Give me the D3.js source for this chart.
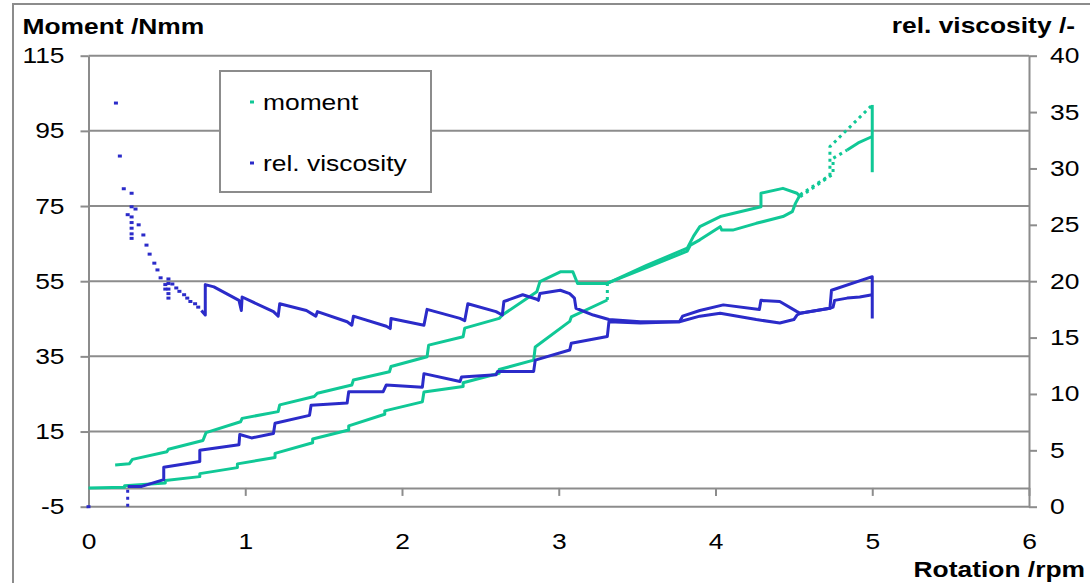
<!DOCTYPE html>
<html>
<head>
<meta charset="utf-8">
<script src="https://cdn.jsdelivr.net/npm/d3@7"></script>
<style>
  body { margin: 0; background: #fff; }
  svg { display: block; font-family: "Liberation Sans", Arial, sans-serif; }
</style>
</head>
<body>
<div id="chart"></div>
<script>
// ticks
const xTicks = [0, 1, 2, 3, 4, 5, 6];
const momentTicks = [-5, 15, 35, 55, 75, 95, 115];
const viscTicks = [0, 5, 10, 15, 20, 25, 30, 35, 40];

// moment /Nmm vs rotation /rpm
const momentRise = [[0,0],[0.23,0.2],[0.23,0.6],[0.49,1.3],[0.49,2.0],[0.71,3.0],[0.71,3.8],[0.95,5.4],[0.95,6.4],
  [1.19,8.1],[1.19,9.2],[1.43,12.0],[1.43,13.0],[1.66,15.4],[1.66,16.5],[1.89,19.6],[1.89,20.5],[2.13,22.9],
  [2.14,25.5],[2.39,27.0],[2.39,28.0],[2.62,30.5],[2.62,31.5],[2.84,34.0],[2.85,37.5],[3.07,44.3],[3.08,45.5],
  [3.31,50.0]];
const momentRiseGap = [[3.31,50.0],[3.31,54.5]];
const momentRise2 = [[3.31,54.5],[3.56,58.6],[3.82,63.0],[3.84,64.6],[3.90,66.0],[4.03,69.5],[4.04,68.6],
  [4.11,68.6],[4.26,70.4],[4.43,72.2],[4.49,73.5],[4.51,75.7],[4.54,78.0]];
const momentRiseDotted = [[4.54,78.0],[4.73,83.2],[4.73,90.8],[5.0,101.9]];
const momentHold = [[5.0,101.9],[5.0,84.0]];
const momentFall = [[0.17,6.1],[0.26,6.4],[0.28,7.6],[0.50,9.6],[0.51,10.3],[0.73,12.6],[0.75,14.7],[0.97,17.6],
  [0.98,18.5],[1.21,20.3],[1.22,22.1],[1.44,24.3],[1.46,25.2],[1.68,27.4],[1.69,28.7],[1.92,30.9],[1.93,32.3],
  [2.16,34.9],[2.17,38.0],[2.39,40.2],[2.40,42.5],[2.62,45.1],[2.64,46.0],[2.86,52.2],[2.88,54.9],[3.01,57.5],
  [3.09,57.5],[3.12,54.4],[3.31,54.4],[3.56,59.2],[3.82,63.8],[3.86,67.0],[3.90,69.5],[4.03,72.2],[4.29,74.8],
  [4.29,78.4],[4.43,79.7],[4.52,78.4],[4.54,77.5]];
const momentFallDotted = [[4.54,77.5],[4.75,83.5],[4.75,87.7],[4.84,89.9]];
const momentFallEnd = [[4.84,89.9],[4.91,91.8],[5.0,93.5]];

// rel. viscosity /- vs rotation /rpm
const viscDots = [[0,0],[0.175,35.8],[0.20,31.1],[0.225,28.2],[0.275,27.8],[0.275,26.6],[0.30,26.4],[0.25,25.9],
  [0.275,25.7],[0.275,25.2],[0.275,24.7],[0.275,24.2],[0.275,23.8],[0.32,25.0],[0.35,24.1],[0.37,23.2],
  [0.39,22.4],[0.42,21.6],[0.44,21.0],[0.46,20.3],[0.49,19.7],[0.49,19.3],[0.51,20.2],[0.51,19.8],[0.51,19.3],
  [0.51,18.9],[0.51,18.5],[0.535,19.75],[0.56,19.4],[0.58,19.1],[0.61,18.8],[0.63,18.5],[0.65,18.2],
  [0.68,18.0],[0.70,17.7]];
const viscFall = [[0.72,17.4],[0.745,17.0],[0.745,19.7],[0.80,19.5],[0.88,18.9],[0.96,18.3],[0.975,17.4],
  [0.98,18.6],[1.18,17.3],[1.21,16.9],[1.22,18.0],[1.39,17.4],[1.45,16.9],[1.46,17.3],[1.65,16.4],[1.68,16.1],
  [1.69,16.9],[1.90,16.0],[1.925,15.8],[1.93,16.7],[2.14,16.1],[2.16,17.5],[2.37,16.7],[2.40,16.5],[2.42,18.0],
  [2.60,17.3],[2.64,17.0],[2.65,18.2],[2.77,18.8],[2.86,18.4],[2.87,18.3],[2.88,18.9],[3.01,19.2],[3.07,18.9],
  [3.10,18.5],[3.11,17.6],[3.22,17.0],[3.32,16.6],[3.52,16.4],[3.77,16.4],[3.79,16.9],[3.90,17.4],[4.05,17.9],
  [4.28,17.5],[4.29,18.3],[4.41,18.2],[4.52,17.3],[4.54,17.15],[4.73,17.6],[4.74,19.2],[5.0,20.4],[5.0,16.7]];
const viscRiseDotted = [[0.25,0],[0.25,1.8]];
const viscRise = [[0.25,1.8],[0.34,1.8],[0.48,2.4],[0.48,3.5],[0.71,4.0],[0.71,5.0],[0.96,5.5],[0.965,6.4],
  [1.04,6.1],[1.18,6.5],[1.19,7.4],[1.41,8.1],[1.42,9.0],[1.65,9.2],[1.66,10.2],[1.88,10.2],[1.90,10.8],
  [2.13,10.6],[2.14,11.8],[2.37,11.1],[2.38,11.5],[2.60,11.7],[2.61,12.0],[2.84,12.0],[2.85,13.0],[3.07,13.9],
  [3.08,14.5],[3.31,15.1],[3.32,16.4],[3.52,16.3],[3.77,16.4],[3.90,16.9],[4.03,17.15],[4.26,16.6],[4.41,16.3],
  [4.50,16.6],[4.52,17.0],[4.54,17.15],[4.73,17.6],[4.75,17.7],[4.76,18.3],[4.84,18.5],[4.92,18.6],[5.0,18.8]];

const seriesNames = ["moment", "rel. viscosity"];
const green = "#10c896";
const blue = "#2b2bc9";
const grid = "#8c8c8c";

const width = 1090, height = 583;
const sx = 1.2; // text is drawn a bit wider than tall

const svg = d3.select("#chart").append("svg")
  .attr("width", width).attr("height", height);

const x = d3.scaleLinear().domain([0, 6]).range([88.5, 1029]);
const yL = d3.scaleLinear().domain([-5, 115]).range([506.7, 55.7]);
const yR = d3.scaleLinear().domain([0, 40]).range([506.7, 55.7]);

// outer frame
svg.append("path")
  .attr("d", `M13,${height} V4 H${width}`)
  .attr("fill", "none").attr("stroke", grid).attr("stroke-width", 2);

// gridlines
svg.append("g").selectAll("line").data(momentTicks).join("line")
  .attr("x1", x(0)).attr("x2", x(6))
  .attr("y1", d => yL(d)).attr("y2", d => yL(d))
  .attr("stroke", grid).attr("stroke-width", 2);

const plain = d => String(d);

function styleAxis(g) {
  g.select(".domain").attr("stroke", grid).attr("stroke-width", 2);
  g.selectAll(".tick line").attr("stroke", grid).attr("stroke-width", 2);
  g.selectAll(".tick text")
    .attr("fill", "#000")
    .attr("font-size", 22)
    .attr("font-family", '"Liberation Sans", Arial, sans-serif')
    .attr("transform", `scale(${sx},1)`);
}

svg.append("g")
  .attr("transform", `translate(${x(0)},0)`)
  .call(d3.axisLeft(yL).tickValues(momentTicks).tickFormat(plain).tickSize(8).tickPadding(12).tickSizeOuter(0))
  .call(styleAxis);

svg.append("g")
  .attr("transform", `translate(${x(6)},0)`)
  .call(d3.axisRight(yR).tickValues(viscTicks).tickFormat(plain).tickSize(8).tickPadding(9.5).tickSizeOuter(0))
  .call(styleAxis);

svg.append("g")
  .attr("transform", `translate(0,${yL(0)})`)
  .call(d3.axisBottom(x).tickValues(xTicks).tickFormat(plain).tickSize(8).tickPadding(37).tickSizeOuter(0))
  .call(styleAxis);

// series
const lineL = d3.line().x(d => x(d[0])).y(d => yL(d[1]));
const lineR = d3.line().x(d => x(d[0])).y(d => yR(d[1]));

function drawLine(data, gen, color, dotted) {
  svg.append("path")
    .datum(data)
    .attr("d", gen)
    .attr("fill", "none")
    .attr("stroke", color)
    .attr("stroke-width", 3)
    .attr("stroke-linejoin", "round")
    .attr("stroke-dasharray", dotted ? "3,4" : null);
}

[momentRise, momentRise2, momentHold, momentFall, momentFallEnd].forEach(d => drawLine(d, lineL, green, false));
[momentRiseGap, momentRiseDotted, momentFallDotted].forEach(d => drawLine(d, lineL, green, true));

[viscFall, viscRise].forEach(d => drawLine(d, lineR, blue, false));
drawLine(viscRiseDotted, lineR, blue, true);

svg.append("g").selectAll("rect").data(viscDots).join("rect")
  .attr("x", d => x(d[0]) - 2).attr("y", d => yR(d[1]) - 1.5)
  .attr("width", 4).attr("height", 3)
  .attr("fill", blue);

// titles
function label(px, py, txt, anchor, bold) {
  svg.append("text")
    .attr("transform", `translate(${px},${py}) scale(${sx},1)`)
    .attr("text-anchor", anchor)
    .attr("font-size", 22)
    .attr("font-weight", bold ? "bold" : "normal")
    .text(txt);
}
label(22.5, 34, "Moment /Nmm", "start", true);
label(1075, 33, "rel. viscosity /-", "end", true);
label(1085, 577, "Rotation /rpm", "end", true);

// legend
svg.append("rect")
  .attr("x", 220).attr("y", 71).attr("width", 211).attr("height", 121)
  .attr("fill", "#fff").attr("stroke", grid).attr("stroke-width", 2);

const legend = svg.append("g").selectAll("g").data(seriesNames).join("g")
  .attr("transform", (d, i) => `translate(0,${i * 61})`);
legend.append("rect")
  .attr("x", 250).attr("y", 100.5).attr("width", 4).attr("height", 3)
  .attr("fill", (d, i) => i === 0 ? green : blue);
legend.append("text")
  .attr("transform", `translate(263,110) scale(${sx},1)`)
  .attr("font-size", 22)
  .text(d => d);
</script>
</body>
</html>
